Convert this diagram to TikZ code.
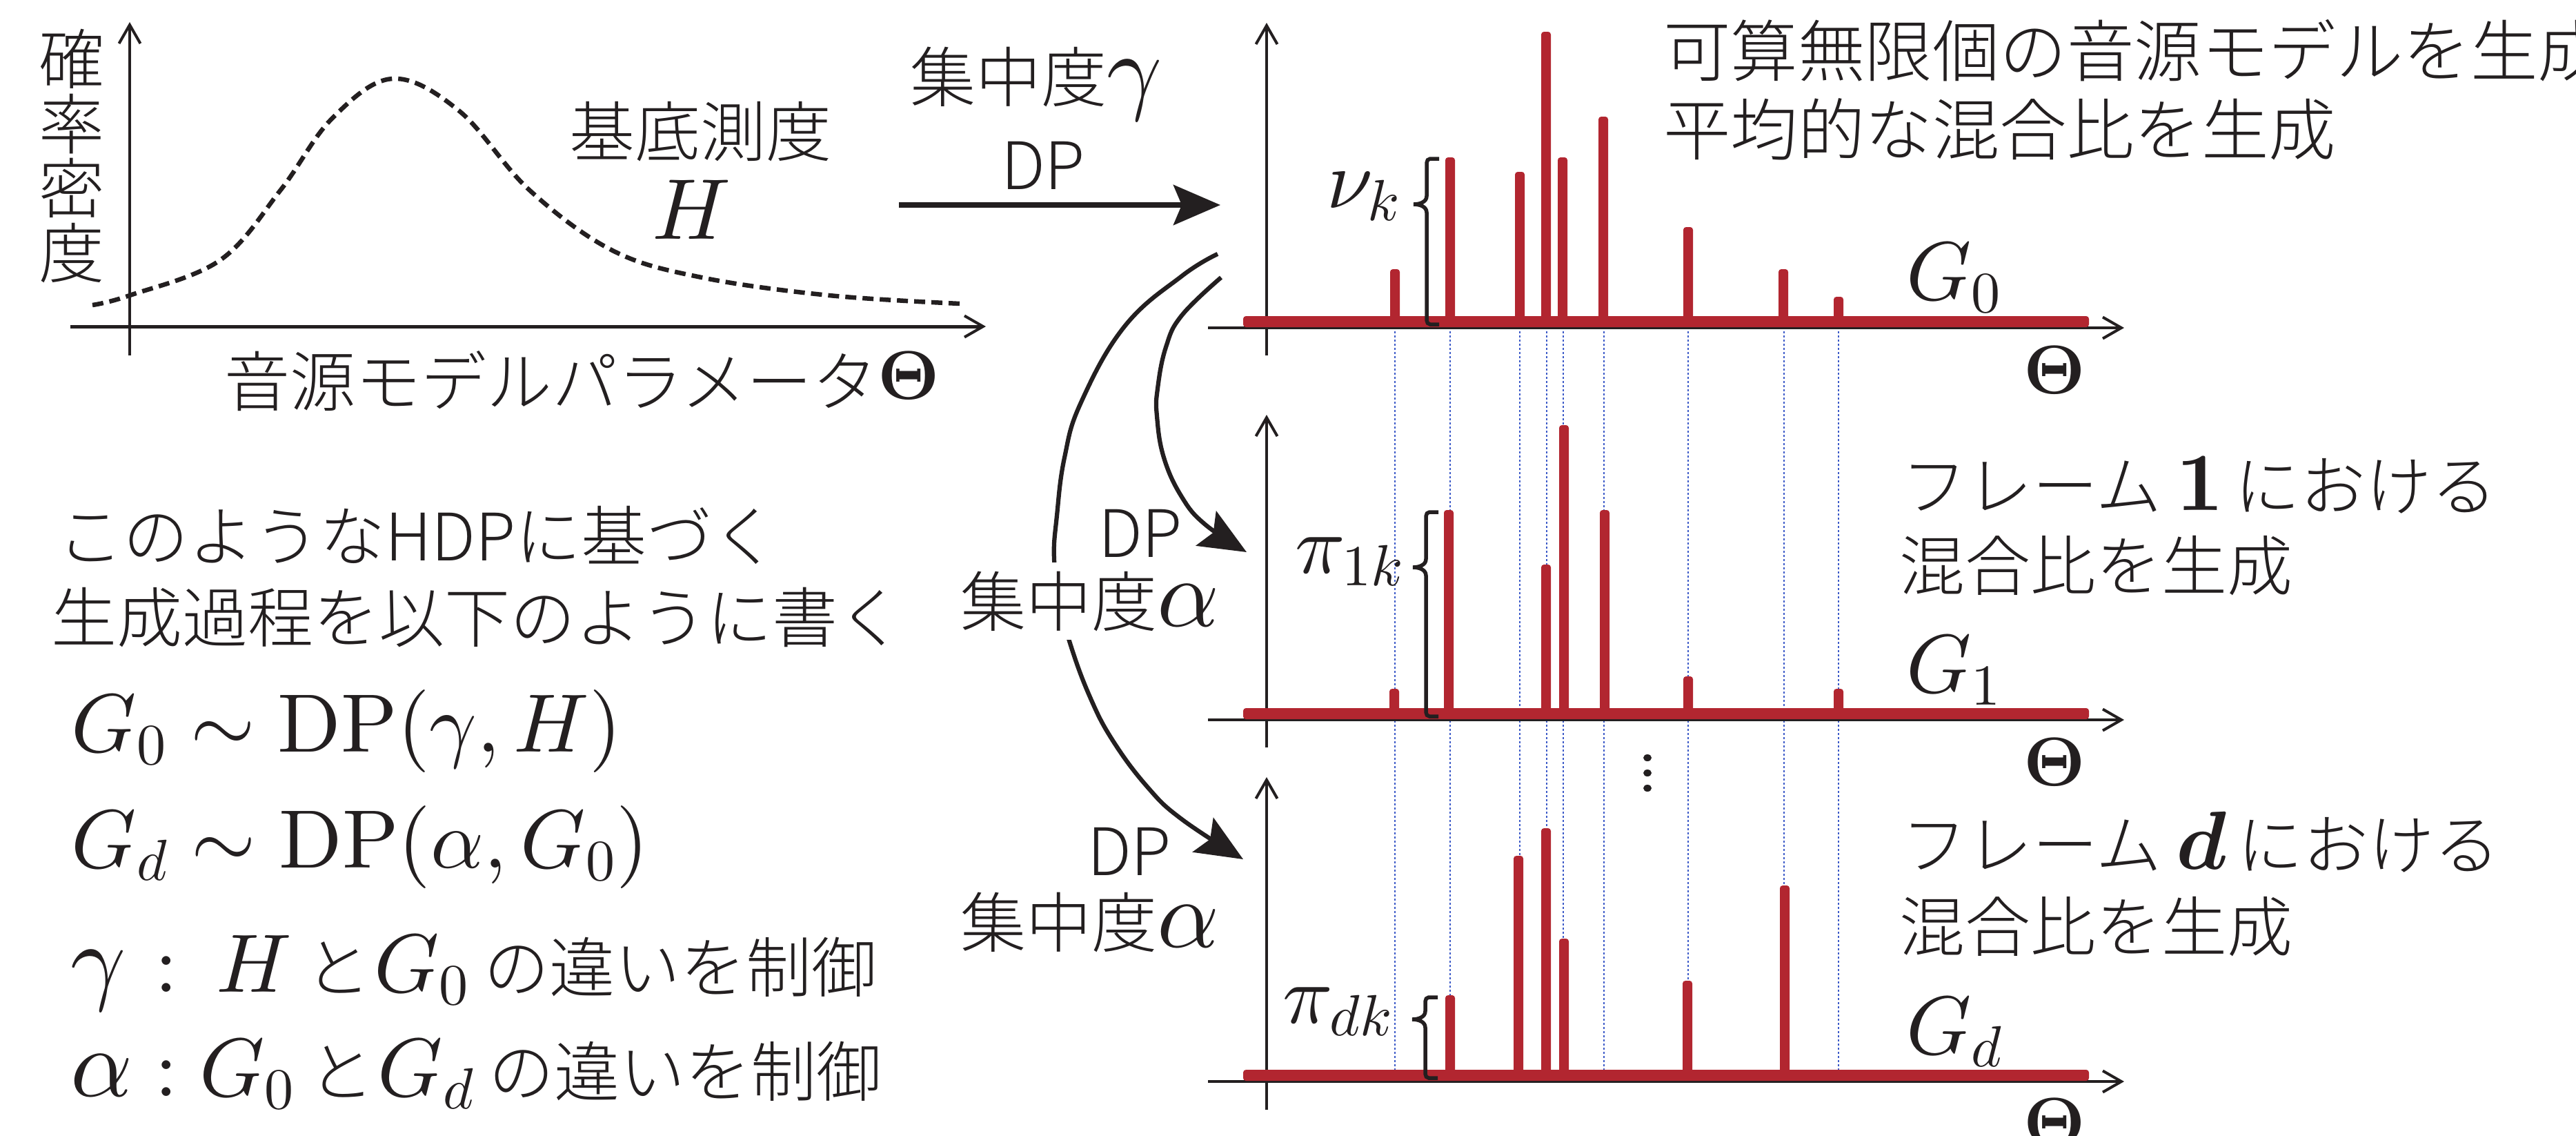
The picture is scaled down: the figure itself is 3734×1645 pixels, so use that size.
\documentclass[tikz,border=0pt]{standalone}
\usepackage[no-math]{fontspec}
\usepackage{bm}
\DeclareFontShape{OML}{cmm}{m}{it}{<->cmmi10}{}
\DeclareFontShape{OML}{cmm}{b}{it}{<->cmmib10}{}
\DeclareFontShape{OT1}{cmr}{m}{n}{<->cmr10}{}
\DeclareFontShape{OT1}{cmr}{bx}{n}{<->cmbx10}{}
\DeclareFontShape{OMS}{cmsy}{m}{n}{<->cmsy10}{}
\IfFontExistsTF{Noto Sans CJK JP Light}%
  {\newfontfamily\jp{Noto Sans CJK JP Light}}%
  {\newfontfamily\jp{Noto Sans CJK JP}}
\usetikzlibrary{arrows.meta}
\definecolor{ink}{RGB}{35,31,32}
\definecolor{bar}{RGB}{178,38,48}
\definecolor{dotc}{RGB}{60,90,200}
\newcommand\MM[1]{{\fontsize{24}{24}\selectfont$#1$}}
\newcommand\GG[1]{{\fontsize{28}{28}\selectfont$#1$}}
\newcommand\mybrace[4]{%
  \draw[brc] ({#1+18},#2) -- ({#1+5},#2) to[out=180,in=90] (#1,{#2+6})
    -- (#1,{#3-12}) to[out=-90,in=0] ({#1-19},#3) to[out=0,in=90] (#1,{#3+12})
    -- (#1,{#4-6}) to[out=-90,in=180] ({#1+5},#4) -- ({#1+18},#4);}
\begin{document}
\begin{tikzpicture}[x=0.2pt,y=-0.2pt,
  jp/.style={font=\jp\fontsize{19}{19}\selectfont, inner sep=0pt, text=ink},
  mth/.style={font=\fontsize{24}{24}\selectfont, inner sep=0pt, text=ink},
  grk/.style={font=\fontsize{28}{28}\selectfont, inner sep=0pt, text=ink},
  thet/.style={font=\fontsize{20}{20}\selectfont, inner sep=0pt, text=ink},
  axisline/.style={draw=ink, line width=0.8pt, -{Straight Barb[length=5.4pt,width=6.2pt,line width=0.8pt]}},
  bigarrow/.style={draw=ink, line width=1.25pt, -{Stealth[length=13.6pt,width=11.6pt,inset=2.4pt]}},
  brc/.style={draw=ink, line width=1.1pt},
  dotline/.style={draw=dotc, line width=0.4pt, dash pattern=on 0.6pt off 0.6pt},
  spikefill/.style={fill=bar, rounded corners=0.8pt}]
\useasboundingbox (0,0) rectangle (3734,1645);
\clip (0,0) rectangle (3734,1645);

% ---------- left plot (base measure H)
\draw[axisline, line width=0.7pt] (188,515) -- (188,32);
\draw[axisline, line width=1pt] (102,473) -- (1429,473);
\draw[ink, line width=1.3pt, dash pattern=on 3.2pt off 1.8pt]
  plot[smooth, tension=0.6] coordinates {(134,442) (188,428) (319,377) (407,275) (481,172) (569,114) (666,161) (767,275) (888,363) (1017,402) (1202,428) (1392,440)};
\node[jp, align=center, font=\jp\fontsize{19}{18.7}\selectfont] (ylab) at (104,226) {確\\率\\密\\度};
\node[jp, anchor=base] (hlab) at (1015,226) {基底測度};
\node[font=\fontsize{25}{25}\selectfont, inner sep=0pt, text=ink, anchor=base] (hsym) at (1003,346) {$H$};
\node[jp, anchor=base west] (xlab) at (324,588) {音源モデルパラメータ\raisebox{2pt}{\fontsize{20}{20}\selectfont$\mathbf{\Theta}$}};

% ---------- dotted guide lines
\foreach \x in {2022,2102,2203,2242,2266,2325,2447,2586,2665}
  \draw[dotline] (\x,480) -- (\x,1550);

% ---------- panel 1 (G0)
\draw[axisline] (1751,475) -- (3079,475);
\draw[axisline] (1836,515) -- (1836,33);
\fill[bar, rounded corners=0.8pt] (1802,458) rectangle (3028,474);
\foreach \x/\t in {2022/390,2102/228,2203/249,2241/46,2265/228,2324/169,2447/329,2585/390,2665/430}
  \fill[spikefill] ({\x-7},\t) rectangle ({\x+7},466);
% ---------- panel 2 (G1)
\draw[axisline] (1751,1043) -- (3079,1043);
\draw[axisline] (1836,1083) -- (1836,601);
\fill[bar, rounded corners=0.8pt] (1802,1026) rectangle (3028,1042);
\foreach \x/\t in {2021/998,2100/739,2241/818,2267/616,2326/739,2447/980,2665/998}
  \fill[spikefill] ({\x-7},\t) rectangle ({\x+7},1034);
% ---------- panel 3 (Gd)
\draw[axisline] (1751,1567) -- (3079,1567);
\draw[axisline] (1836,1608) -- (1836,1126);
\fill[bar, rounded corners=0.8pt] (1802,1550) rectangle (3028,1566);
\foreach \x/\t in {2102/1442,2201/1240,2241/1200,2267/1360,2446/1421,2587/1283}
  \fill[spikefill] ({\x-7},\t) rectangle ({\x+7},1558);

% ---------- vertical ellipsis between panels
\foreach \y in {1098,1120,1142}
  \fill[ink] (2388,\y) ellipse [x radius=6, y radius=5];

% ---------- braces and weights
\mybrace{2068}{230}{296}{470}
\mybrace{2067}{742}{822}{1038}
\mybrace{2066}{1445}{1477}{1562}
\node[mth, anchor=base west] (nu) at (1922,301) {$\nu_k$};
\node[mth, anchor=base west] (pi1) at (1876,830) {$\pi_{1k}$};
\node[mth, anchor=base west] (pid) at (1858,1482) {$\pi_{dk}$};

% ---------- labels on panels
\node[mth, anchor=base west] (g0) at (2762,434) {$G_0$};
\node[mth, anchor=base west] (g1) at (2762,1003) {$G_1$};
\node[mth, anchor=base west] (gd) at (2762,1527) {$G_d$};
\node[thet, anchor=base] (th1) at (2978,570) {$\mathbf{\Theta}$};
\node[thet, anchor=base] (th2) at (2978,1138) {$\mathbf{\Theta}$};
\node[thet, anchor=base] (th3) at (2978,1660) {$\mathbf{\Theta}$};

\node[jp, font=\jp\fontsize{19.5}{19.5}\selectfont, anchor=base west] (t1a) at (2410,110) {可算無限個の音源モデルを生成};
\node[jp, font=\jp\fontsize{19.5}{19.5}\selectfont, anchor=base west] (t1b) at (2410,224) {平均的な混合比を生成};
\node[jp, anchor=base west] (t2a) at (2755,739) {フレーム\ \MM{\mathbf{1}}\,における};
\node[jp, anchor=base west] (t2b) at (2752,855) {混合比を生成};
\node[jp, anchor=base west] (t3a) at (2755,1259) {フレーム\ \MM{\bm{d}}\,における};
\node[jp, anchor=base west] (t3b) at (2752,1378) {混合比を生成};

% ---------- arrows
\coordinate (a0s) at (1303,297);
\coordinate (a0e) at (1769,297);
\draw[bigarrow, line width=1.5pt] (a0s) -- (a0e);
\node[jp, anchor=base west] (gam) at (1318,147) {集中度\GG{\gamma}};
\node[jp, anchor=base] (dp0) at (1512,274) {DP};

\draw[bigarrow] plot[smooth, tension=0.7] coordinates {(1770,402) (1713,457) (1690,503) (1678,563) (1677,603) (1687,663) (1713,720) (1747,760) (1807,800)};
\draw[bigarrow] plot[smooth, tension=0.7] coordinates {(1765,368) (1713,400) (1630,473) (1567,583) (1543,663) (1532,747) (1528,810) (1537,875) (1552,935) (1580,1010) (1613,1073) (1663,1140) (1713,1187) (1802,1245)};

\node[jp, anchor=base] (dp1) at (1653,807) {DP};
\node[jp, anchor=base west, fill=white, inner ysep=2.5pt] (al1) at (1391,907) {集中度\GG{\alpha}};
\node[jp, anchor=base] (dp2) at (1637,1268) {DP};
\node[jp, anchor=base west] (al2) at (1391,1372) {集中度\GG{\alpha}};

% ---------- left text block
\node[jp, anchor=base west] (s1) at (82,812) {このようなHDPに基づく};
\node[jp, anchor=base west] (s2) at (73,930) {生成過程を以下のように書く};
\node[mth, anchor=base west] (eq1) at (103,1089) {$G_0 \sim \mathrm{DP}(\gamma, H)$};
\node[mth, anchor=base west] (eq2) at (103,1257) {$G_d \sim \mathrm{DP}(\alpha, G_0)$};
\node[grk, anchor=base west] (c1g) at (101,1437) {$\gamma$};
\node[mth, anchor=base] (c1c) at (241,1437) {$:$};
\node[jp, anchor=base west] (c1r) at (312,1437) {\MM{H}\hspace{4pt}と\hspace{1pt}\MM{G_0}\hspace{4pt}の違いを制御};
\node[grk, anchor=base west] (c2a) at (101,1588) {$\alpha$};
\node[mth, anchor=base] (c2c) at (241,1588) {$:$};
\node[jp, anchor=base west] (c2r) at (288,1588) {\MM{G_0}\hspace{4pt}と\hspace{1pt}\MM{G_d}\hspace{4pt}の違いを制御};
\end{tikzpicture}
\end{document}
